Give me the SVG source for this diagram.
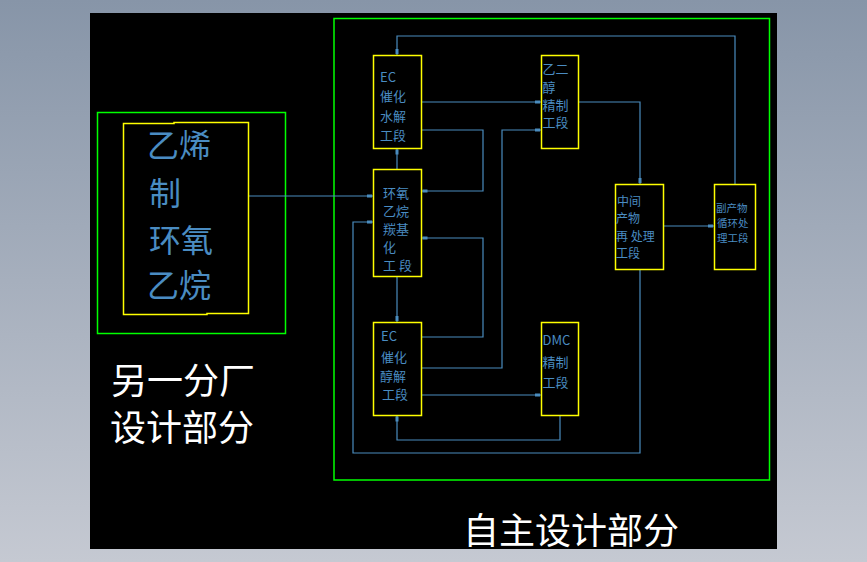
<svg xmlns="http://www.w3.org/2000/svg" width="867" height="562" viewBox="0 0 867 562">
<defs>
<linearGradient id="bg" x1="0" y1="0" x2="0" y2="1">
<stop offset="0" stop-color="#8795a8"/>
<stop offset="1" stop-color="#c5c9d2"/>
</linearGradient>
<marker id="arr" markerUnits="userSpaceOnUse" markerWidth="8" markerHeight="6" viewBox="0 -3 8 6" refX="7" refY="0" orient="auto">
<rect x="1" y="-1.5" width="5" height="3" fill="#4a8cbe"/>
</marker>
<style>
.frame{fill:none;stroke:#00ff00;stroke-width:1.5}
.box{fill:none;stroke:#ffff00;stroke-width:1.5}
.conn path{fill:none;stroke:#4a8cbe;stroke-width:1.2;marker-end:url(#arr)}
.t{font-family:"Noto Sans CJK SC","Liberation Sans",sans-serif;fill:#4a8cc2;dominant-baseline:central}
.s{font-size:13px}
.m{font-size:12px}
.xs{font-size:10.5px}
.big{font-size:32px}
.w{font-family:"Noto Sans CJK SC","Liberation Sans",sans-serif;fill:#ffffff;font-size:36px;dominant-baseline:central}
</style>
</defs>
<rect x="0" y="0" width="867" height="562" fill="url(#bg)"/>
<rect x="90" y="13" width="687" height="536" fill="#000000"/>

<rect class="frame" x="334" y="18.5" width="435.5" height="461.5"/>
<rect class="frame" x="97.5" y="112.5" width="188" height="221" stroke-width="1.2"/>

<g class="conn">
<path d="M248,196 H373"/>
<path d="M397,169 V148.5"/>
<path d="M421,102 H541"/>
<path d="M421,130 H483 V191 H421.5"/>
<path d="M397,276.5 V322"/>
<path d="M421,337 H483 V238 H421.5"/>
<path d="M421,368 H502 V130 H541"/>
<path d="M421,395 H541"/>
<path d="M560,415.5 V440 H397 V415.5"/>
<path d="M578,102 H640 V184"/>
<path d="M663,226 H714"/>
<path d="M735,184 V36 H397 V55"/>
<path d="M640,269.5 V453 H353 V222 H373"/>
</g>

<g id="n-ethylene">
<path class="box" d="M123.5,123.5 H174 V122.5 H248.5 V313.5 H207 V314.5 H123.5 Z"/>
<text class="t big" x="147" y="143">乙烯</text>
<text class="t big" x="149" y="191">制</text>
<text class="t big" x="149" y="237.5">环氧</text>
<text class="t big" x="147" y="282.5">乙烷</text>
</g>

<g id="n-ec-hydrolysis">
<rect class="box" x="373.5" y="55.5" width="48" height="93"/>
<text class="t s" x="380" y="76">EC</text>
<text class="t s" x="380" y="95">催化</text>
<text class="t s" x="380" y="115">水解</text>
<text class="t s" x="380" y="134">工段</text>
</g>

<g id="n-glycol">
<rect class="box" x="541.5" y="55.5" width="37" height="93"/>
<text class="t s" x="542.5" y="68.5">乙二</text>
<text class="t s" x="542.5" y="86.5">醇</text>
<text class="t s" x="542.5" y="104">精制</text>
<text class="t s" x="542.5" y="121.5">工段</text>
</g>

<g id="n-carbonylation">
<rect class="box" x="373.5" y="169.5" width="48" height="107"/>
<text class="t s" x="383" y="192.5">环氧</text>
<text class="t s" x="383" y="210.5">乙烷</text>
<text class="t s" x="383" y="228.5">羰基</text>
<text class="t s" x="383" y="246">化</text>
<text class="t s" x="383" y="264" xml:space="preserve">工 段</text>
</g>

<g id="n-intermediate">
<rect class="box" x="615.5" y="184.5" width="48" height="85"/>
<text class="t m" x="617" y="200">中间</text>
<text class="t m" x="616" y="217.5">产物</text>
<text class="t m" x="616" y="235" xml:space="preserve">再 处理</text>
<text class="t m" x="616" y="252.5">工段</text>
</g>

<g id="n-byproduct">
<rect class="box" x="714.5" y="184.5" width="41" height="85"/>
<text class="t xs" x="716" y="207">副产物</text>
<text class="t xs" x="717" y="222">循环处</text>
<text class="t xs" x="717" y="237">理工段</text>
</g>

<g id="n-ec-alcoholysis">
<rect class="box" x="373.5" y="322.5" width="48" height="93"/>
<text class="t s" x="381" y="335">EC</text>
<text class="t s" x="381" y="356">催化</text>
<text class="t s" x="380" y="375">醇解</text>
<text class="t s" x="382" y="393.5">工段</text>
</g>

<g id="n-dmc">
<rect class="box" x="541.5" y="322.5" width="37" height="93"/>
<text class="t s" x="542.5" y="339.5">DMC</text>
<text class="t s" x="542.5" y="361">精制</text>
<text class="t s" x="542.5" y="381">工段</text>
</g>

<g id="labels">
<text class="w" x="111" y="377.5">另一分厂</text>
<text class="w" x="110" y="425">设计部分</text>
<text class="w" x="463" y="528">自主设计部分</text>
</g>
</svg>
